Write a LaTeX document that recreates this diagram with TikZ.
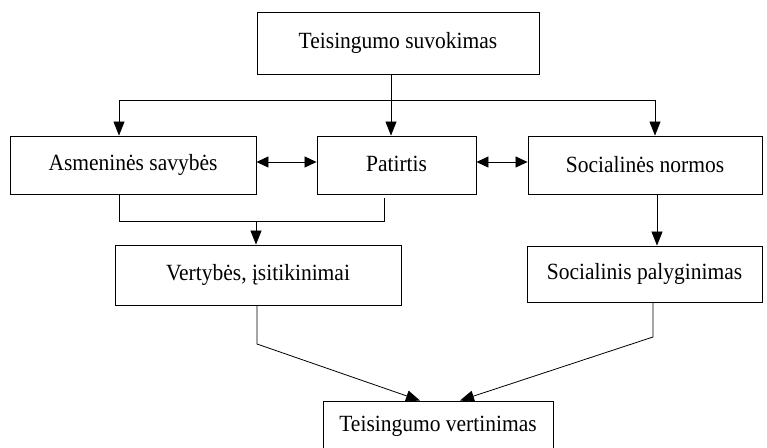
\documentclass[tikz,border=0pt]{standalone}
\usepackage{fontspec}
\setmainfont{Liberation Serif}
\usetikzlibrary{arrows.meta,calc}
\begin{document}
\begin{tikzpicture}[x=1pt,y=-1pt,
  box/.style={draw,line width=0.9pt,inner sep=0pt,anchor=center,font=\fontsize{21.5}{25}\selectfont},
  conn/.style={line width=0.8pt},
  arr/.style={conn,-{Triangle[length=14pt,width=11pt]}},
  darr/.style={conn,{Triangle[length=12pt,width=11pt]}-{Triangle[length=12pt,width=11pt]}}]
\useasboundingbox (0,0) rectangle (767,447);
\fill[white] (0,0) rectangle (767,447);
\node[box,minimum width=282pt,minimum height=62pt] (top) at (398,43) {\scalebox{1}[1.08]{Teisingumo suvokimas}};
\node[box,minimum width=246pt,minimum height=58pt] (asm) at (133,165) {\scalebox{1}[1.08]{Asmeninės savybės}};
\node[box,minimum width=159pt,minimum height=58pt] (pat) at (396.5,165) {\raisebox{3pt}{\scalebox{1}[1.08]{Patirtis}}};
\node[box,minimum width=234pt,minimum height=58pt] (soc) at (645,165) {\scalebox{1}[1.08]{Socialinės normos}};
\node[box,minimum width=286pt,minimum height=60pt] (ver) at (258,275) {\scalebox{1}[1.08]{Vertybės, įsitikinimai}};
\node[box,minimum width=235pt,minimum height=56pt] (spa) at (644.5,274) {\scalebox{1}[1.08]{Socialinis palyginimas}};
\node[box,minimum width=230pt,minimum height=51pt] (tv) at (438,426.5) {\scalebox{1}[1.08]{Teisingumo vertinimas}};
% top distribution
\coordinate (hL) at (119,100);
\coordinate (hC) at (391,100);
\coordinate (hR) at (655,100);
\draw[arr] (top.south -| hC) -- (pat.north -| hC);
\draw[conn] (hL) -- (hR);
\draw[arr] (hL) -- (asm.north -| hL);
\draw[arr] (hR) -- (soc.north -| hR);
% double arrows
\draw[darr] ([yshift=3pt]asm.east) -- ([yshift=3pt]pat.west);
\draw[darr] ([yshift=3pt]pat.east) -- ([yshift=3pt]soc.west);
% merge to values
\coordinate (mL) at (119,221);
\coordinate (mC) at (256,221);
\coordinate (mR) at (384,221);
\draw[conn] (asm.south -| mL) -- (mL) -- (mR) -- ([yshift=-4pt]pat.south -| mR);
\draw[arr] (mC) -- (ver.north -| mC);
% social norms to comparison
\coordinate (sC) at (657,220);
\draw[arr] (soc.south -| sC) -- (spa.north -| sC);
% to bottom
\coordinate (vb) at (257,344);
\coordinate (vt) at (420,401);
\coordinate (pb) at (653,337);
\coordinate (pt) at (460,401);
\draw[arr] (ver.south -| vb) -- (vb) -- (tv.north -| vt);
\draw[arr] (spa.south -| pb) -- (pb) -- (tv.north -| pt);
\end{tikzpicture}
\end{document}
